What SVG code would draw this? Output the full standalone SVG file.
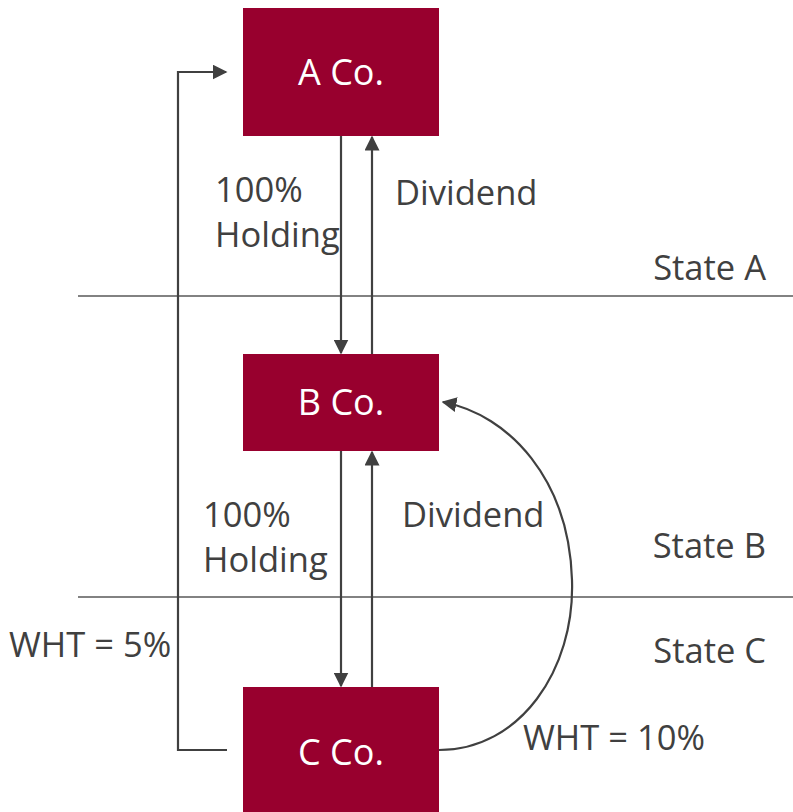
<svg xmlns="http://www.w3.org/2000/svg" width="793" height="812" viewBox="0 0 793 812">
<style>
.box{fill:#98002e}
.bt{fill:#ffffff;font-family:"Open Sans","DejaVu Sans",sans-serif;font-size:36px;text-anchor:middle}
.t{fill:#404040;font-family:"Open Sans","DejaVu Sans",sans-serif;font-size:34.5px}
.ln{stroke:#404040;stroke-width:2.2;fill:none}
.sep{stroke:#595959;stroke-width:1.3}
</style>
<defs>
<marker id="ahb" viewBox="0 0 10 10" refX="9" refY="5" markerWidth="15" markerHeight="15" orient="auto" markerUnits="userSpaceOnUse">
<path d="M0,0 L10,5 L0,10 z" fill="#404040"/>
</marker>
</defs>
<g id="separators">
<line class="sep" x1="78" y1="296" x2="793" y2="296"/>
<line class="sep" x1="78" y1="597" x2="793" y2="597"/>
</g>
<g id="nodeA"><rect class="box" x="243" y="8" width="196" height="128"/><text class="bt" x="341" y="85">A Co.</text></g>
<g id="nodeB"><rect class="box" x="243" y="354" width="196" height="97"/><text class="bt" x="341" y="415">B Co.</text></g>
<g id="nodeC"><rect class="box" x="243" y="687" width="196" height="130"/><text class="bt" x="341" y="765">C Co.</text></g>
<g id="connectors">
<line class="ln" x1="341" y1="136" x2="341" y2="353" marker-end="url(#ahb)"/>
<line class="ln" x1="372" y1="354" x2="372" y2="137" marker-end="url(#ahb)"/>
<line class="ln" x1="341" y1="451" x2="341" y2="686" marker-end="url(#ahb)"/>
<line class="ln" x1="372" y1="687" x2="372" y2="452" marker-end="url(#ahb)"/>
<path class="ln" d="M227,750 H178 V72 H226" marker-end="url(#ahb)"/>
<path class="ln" d="M439,750 C520,750 575,670 572,580 C569,480 510,415 443,402" marker-end="url(#ahb)"/>
</g>
<g id="labels">
<text class="t" x="215" y="202">100%</text>
<text class="t" x="215" y="247">Holding</text>
<text class="t" x="395" y="205">Dividend</text>
<text class="t" x="766" y="280" text-anchor="end">State A</text>
<text class="t" x="203" y="527">100%</text>
<text class="t" x="203" y="572">Holding</text>
<text class="t" x="402" y="527">Dividend</text>
<text class="t" x="766" y="558" text-anchor="end">State B</text>
<text class="t" x="766" y="663" text-anchor="end">State C</text>
<text class="t" x="9" y="657">WHT = 5%</text>
<text class="t" x="523" y="750">WHT = 10%</text>
</g>
</svg>
